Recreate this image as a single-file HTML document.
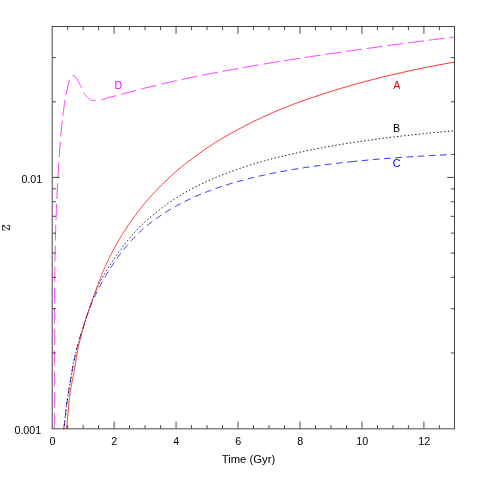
<!DOCTYPE html>
<html><head><meta charset="utf-8"><title>Z vs Time</title>
<style>
html,body{margin:0;padding:0;background:#fff;}
body{width:480px;height:480px;overflow:hidden;}
svg{display:block;will-change:transform;}
text{font-family:"Liberation Sans",sans-serif;font-size:10.7px;fill:#000;}
</style></head>
<body>
<svg width="480" height="480" viewBox="0 0 480 480">
<rect x="0" y="0" width="480" height="480" fill="#fff"/>
<defs><filter id="g" x="0" y="0" width="480" height="480" filterUnits="userSpaceOnUse" color-interpolation-filters="sRGB"><feOffset dx="0" dy="0"/></filter><clipPath id="c"><rect x="52.14" y="26.50" width="402.36" height="402.37"/></clipPath></defs>
<g fill="none" stroke-width="0.8" clip-path="url(#c)">
<path stroke="#f0f" stroke-dasharray="15.8 5.06" stroke-dashoffset="-0.5" d="M54.29 428.87L54.29 427.70L54.30 426.54L54.30 425.37L54.31 424.20L54.31 423.04L54.31 421.87L54.32 420.70L54.32 419.54L54.32 418.37L54.33 417.20L54.33 416.04L54.33 414.87L54.33 413.70L54.33 412.53L54.34 411.37L54.34 410.20L54.34 409.03L54.34 407.87L54.34 406.70L54.34 405.53L54.34 404.37L54.34 403.20L54.35 402.03L54.35 400.87L54.35 399.70L54.35 398.53L54.35 397.37L54.35 396.20L54.35 395.03L54.35 393.87L54.35 392.70L54.35 391.53L54.35 390.37L54.35 389.20L54.35 388.03L54.35 386.87L54.35 385.70L54.34 384.53L54.34 383.37L54.34 382.20L54.34 381.03L54.34 379.86L54.34 378.70L54.34 377.53L54.34 376.36L54.34 375.20L54.34 374.03L54.34 372.86L54.34 371.70L54.34 370.53L54.34 369.36L54.33 368.20L54.33 367.03L54.33 365.86L54.33 364.70L54.33 363.53L54.33 362.36L54.33 361.20L54.33 360.03L54.33 358.86L54.33 357.70L54.33 356.53L54.33 355.36L54.33 354.20L54.33 353.03L54.33 351.86L54.33 350.70L54.33 349.53L54.33 348.36L54.33 347.19L54.33 346.03L54.33 344.86L54.33 343.69L54.33 342.53L54.33 341.36L54.33 340.19L54.33 339.03L54.34 337.86L54.34 336.69L54.34 335.53L54.34 334.36L54.34 333.19L54.34 332.03L54.35 330.86L54.35 329.69L54.35 328.53L54.35 327.36L54.36 326.19L54.36 325.03L54.36 323.86L54.37 322.69L54.37 321.53L54.37 320.36L54.38 319.19L54.38 318.03L54.39 316.86L54.39 315.69L54.40 314.52L54.40 313.36L54.41 312.19L54.41 311.02L54.42 309.86L54.43 308.69L54.43 307.52L54.44 306.36L54.45 305.19L54.45 304.02L54.46 302.86L54.47 301.69L54.48 300.52L54.49 299.36L54.50 298.19L54.50 297.02L54.51 295.86L54.52 294.69L54.53 293.52L54.54 292.36L54.55 291.19L54.57 290.02L54.58 288.86L54.59 287.69L54.60 286.52L54.61 285.35L54.63 284.19L54.64 283.02L54.65 281.85L54.67 280.69L54.68 279.52L54.70 278.35L54.71 277.19L54.73 276.02L54.74 274.85L54.76 273.69L54.77 272.52L54.79 271.35L54.81 270.19L54.83 269.02L54.84 267.85L54.86 266.69L54.88 265.52L54.90 264.35L54.92 263.19L54.94 262.02L54.96 260.85L54.98 259.69L55.01 258.52L55.03 257.35L55.05 256.19L55.07 255.02L55.10 253.85L55.12 252.68L55.15 251.52L55.17 250.35L55.20 249.18L55.22 248.02L55.25 246.85L55.28 245.68L55.31 244.52L55.33 243.35L55.36 242.18L55.39 241.02L55.42 239.85L55.45 238.68L55.48 237.52L55.51 236.35L55.55 235.18L55.58 234.02L55.61 232.85L55.65 231.68L55.68 230.52L55.71 229.35L55.75 228.18L55.79 227.02L55.82 225.85L55.86 224.68L55.90 223.52L55.94 222.35L55.97 221.18L56.01 220.01L56.05 218.85L56.10 217.68L56.14 216.51L56.18 215.35L56.22 214.18L56.27 213.01L56.31 211.85L56.35 210.68L56.40 209.51L56.45 208.35L56.49 207.18L56.54 206.01L56.59 204.85L56.64 203.68L56.69 202.51L56.74 201.35L56.79 200.18L56.84 199.01L56.89 197.85L56.94 196.68L57.00 195.51L57.05 194.35L57.11 193.18L57.16 192.01L57.22 190.84L57.28 189.68L57.33 188.51L57.39 187.34L57.45 186.18L57.51 185.01L57.57 183.84L57.64 182.68L57.70 181.51L57.76 180.34L57.83 179.18L57.89 178.01L57.96 176.84L58.02 175.68L58.09 174.51L58.16 173.34L58.23 172.18L58.30 171.01L58.37 169.84L58.44 168.68L58.51 167.51L58.59 166.34L58.66 165.18L58.74 164.01L58.81 162.84L58.89 161.68L58.97 160.51L59.05 159.34L59.12 158.17L59.21 157.01L59.29 155.84L59.37 154.67L59.45 153.51L59.54 152.34L59.62 151.17L59.71 150.01L59.79 148.84L59.88 147.67L59.97 146.51L60.06 145.34L60.15 144.17L60.24 143.01L60.33 141.84L60.43 140.67L60.52 139.51L60.62 138.34L60.71 137.17L60.81 136.01L60.91 134.84L61.01 133.67L61.12 132.51L61.22 131.34L61.33 130.17L61.44 129.01L61.55 127.84L61.66 126.67L61.78 125.50L61.90 124.34L62.02 123.17L62.14 122.00L62.27 120.84L62.40 119.67L62.53 118.50L62.67 117.34L62.81 116.17L62.95 115.00L63.09 113.84L63.24 112.67L63.40 111.50L63.56 110.34L63.72 109.17L63.88 108.00L64.05 106.84L64.23 105.67L64.40 104.50L64.59 103.34L64.77 102.17L64.97 101.00L65.16 99.84L65.36 98.67L65.57 97.50L65.78 96.34L66.00 95.17L66.22 94.00L66.45 92.83L66.68 91.67L66.92 90.50L67.17 89.33L67.42 88.17L67.68 87.00L67.94 85.83L68.21 84.67L68.49 83.50L68.77 82.33L69.06 81.17L69.36 80.00L69.53 79.86L69.71 79.48L69.89 79.11L70.07 78.75L70.25 78.41L70.43 78.09L70.61 77.79L70.79 77.50L70.97 77.23L71.15 76.99L71.33 76.76L71.50 76.56L71.68 76.38L71.86 76.23L72.04 76.11L72.22 76.01L72.40 75.94L72.58 75.86L72.76 75.80L72.94 75.74L73.12 75.69L73.30 75.66L73.47 75.65L73.65 75.66L73.83 75.70L74.01 75.76L74.19 75.85L74.37 75.96L74.55 76.10L74.73 76.25L74.91 76.42L75.09 76.60L75.27 76.80L75.45 77.00L75.62 77.22L75.80 77.45L75.98 77.68L76.16 77.92L76.34 78.16L76.52 78.40L76.70 78.64L76.88 78.87L77.06 79.12L77.24 79.39L77.42 79.70L77.59 80.02L77.77 80.36L77.95 80.72L78.13 81.10L78.31 81.48L78.49 81.86L78.67 82.25L78.85 82.63L79.03 83.00L79.21 83.37L79.39 83.72L79.57 84.06L79.74 84.39L79.92 84.72L80.10 85.04L80.28 85.36L80.46 85.69L80.64 86.03L80.82 86.37L81.00 86.72L81.18 87.09L81.36 87.49L81.54 87.92L81.71 88.39L81.89 88.88L82.07 89.38L82.25 89.88L82.43 90.37L82.61 90.83L82.79 91.26L82.97 91.65L83.15 91.98L83.33 92.29L83.51 92.60L83.68 92.89L83.86 93.18L84.04 93.45L84.22 93.72L84.40 93.99L84.58 94.24L84.76 94.49L84.94 94.73L85.12 94.96L85.30 95.19L85.48 95.41L85.66 95.63L85.83 95.83L86.01 96.04L86.19 96.23L86.37 96.42L86.55 96.61L86.73 96.79L86.91 96.96L87.09 97.13L87.27 97.29L87.45 97.45L87.63 97.61L87.80 97.76L87.98 97.92L88.16 98.07L88.34 98.23L88.52 98.38L88.70 98.53L88.88 98.67L89.06 98.81L89.24 98.95L89.42 99.08L89.60 99.20L89.77 99.32L89.95 99.44L90.13 99.54L90.31 99.64L90.49 99.73L90.67 99.81L90.85 99.88L91.03 99.94L91.21 99.99L91.39 100.03L91.57 100.07L91.75 100.11L91.92 100.15L92.10 100.19L92.28 100.22L92.46 100.26L92.64 100.29L92.82 100.33L93.00 100.36L93.18 100.39L93.36 100.42L93.54 100.44L93.72 100.47L93.89 100.49L94.07 100.51L94.25 100.53L94.43 100.55L94.61 100.56L94.79 100.57L94.97 100.58L95.15 100.59L95.33 100.60L95.51 100.60L95.69 100.60L95.86 100.60L96.04 100.59L96.22 100.59L96.40 100.58L96.58 100.56L96.76 100.55L96.94 100.54L97.12 100.52L97.30 100.50L97.48 100.48L97.66 100.46L97.84 100.44L98.01 100.41L98.19 100.39L98.37 100.36L98.55 100.33L98.73 100.31L98.91 100.28L99.09 100.25L99.27 100.22L99.45 100.19L99.63 100.16L99.81 100.13L99.98 100.10L100.16 100.07L100.34 100.04L100.52 100.01L100.70 99.98L100.88 99.95L101.06 99.92L101.24 99.89L101.42 99.86L101.60 99.82L101.78 99.79L101.95 99.75L102.13 99.71L102.31 99.68L102.49 99.64L102.67 99.60L102.85 99.56L103.03 99.51L103.21 99.47L103.39 99.43L103.57 99.38L103.75 99.34L103.93 99.29L104.10 99.25L104.28 99.20L104.46 99.15L104.64 99.10L104.82 99.05L105.00 99.01L106.17 98.12L107.34 97.84L108.51 97.56L109.68 97.28L110.84 96.99L112.01 96.70L113.18 96.40L114.35 96.11L115.52 95.81L116.69 95.50L117.86 95.20L119.03 94.89L120.20 94.59L121.36 94.28L122.53 93.97L123.70 93.66L124.87 93.35L126.04 93.04L127.21 92.73L128.38 92.43L129.55 92.12L130.72 91.81L131.88 91.50L133.05 91.19L134.22 90.89L135.39 90.58L136.56 90.28L137.73 89.97L138.90 89.67L140.07 89.37L141.24 89.07L142.40 88.77L143.57 88.47L144.74 88.17L145.91 87.88L147.08 87.58L148.25 87.29L149.42 87.00L150.59 86.71L151.76 86.42L152.92 86.13L154.09 85.85L155.26 85.56L156.43 85.28L157.60 85.00L158.77 84.72L159.94 84.44L161.11 84.16L162.28 83.89L163.44 83.61L164.61 83.34L165.78 83.07L166.95 82.80L168.12 82.54L169.29 82.27L170.46 82.00L171.63 81.74L172.80 81.48L173.96 81.22L175.13 80.96L176.30 80.70L177.47 80.44L178.64 80.19L179.81 79.93L180.98 79.68L182.15 79.43L183.32 79.18L184.48 78.93L185.65 78.68L186.82 78.43L187.99 78.19L189.16 77.94L190.33 77.70L191.50 77.45L192.67 77.21L193.84 76.97L195.01 76.73L196.17 76.49L197.34 76.25L198.51 76.02L199.68 75.78L200.85 75.55L202.02 75.31L203.19 75.08L204.36 74.85L205.53 74.62L206.69 74.39L207.86 74.16L209.03 73.93L210.20 73.70L211.37 73.47L212.54 73.25L213.71 73.02L214.88 72.80L216.05 72.58L217.21 72.35L218.38 72.13L219.55 71.91L220.72 71.69L221.89 71.47L223.06 71.25L224.23 71.03L225.40 70.82L226.57 70.60L227.73 70.39L228.90 70.17L230.07 69.96L231.24 69.74L232.41 69.53L233.58 69.32L234.75 69.11L235.92 68.90L237.09 68.69L238.25 68.48L239.42 68.27L240.59 68.06L241.76 67.85L242.93 67.65L244.10 67.44L245.27 67.24L246.44 67.03L247.61 66.83L248.77 66.62L249.94 66.42L251.11 66.22L252.28 66.02L253.45 65.82L254.62 65.62L255.79 65.42L256.96 65.22L258.13 65.02L259.29 64.82L260.46 64.63L261.63 64.43L262.80 64.23L263.97 64.04L265.14 63.84L266.31 63.65L267.48 63.45L268.65 63.26L269.81 63.07L270.98 62.87L272.15 62.68L273.32 62.49L274.49 62.30L275.66 62.11L276.83 61.92L278.00 61.73L279.17 61.54L280.33 61.35L281.50 61.17L282.67 60.98L283.84 60.79L285.01 60.61L286.18 60.42L287.35 60.23L288.52 60.05L289.69 59.86L290.85 59.68L292.02 59.50L293.19 59.31L294.36 59.13L295.53 58.95L296.70 58.76L297.87 58.58L299.04 58.40L300.21 58.22L301.37 58.04L302.54 57.86L303.71 57.68L304.88 57.50L306.05 57.32L307.22 57.14L308.39 56.96L309.56 56.79L310.73 56.61L311.89 56.43L313.06 56.26L314.23 56.08L315.40 55.90L316.57 55.73L317.74 55.55L318.91 55.38L320.08 55.20L321.25 55.03L322.41 54.86L323.58 54.68L324.75 54.51L325.92 54.34L327.09 54.16L328.26 53.99L329.43 53.82L330.60 53.65L331.77 53.48L332.93 53.31L334.10 53.14L335.27 52.97L336.44 52.80L337.61 52.63L338.78 52.46L339.95 52.29L341.12 52.12L342.29 51.95L343.45 51.78L344.62 51.62L345.79 51.45L346.96 51.28L348.13 51.11L349.30 50.95L350.47 50.78L351.64 50.62L352.81 50.45L353.97 50.29L355.14 50.12L356.31 49.96L357.48 49.79L358.65 49.63L359.82 49.46L360.99 49.30L362.16 49.14L363.33 48.97L364.49 48.81L365.66 48.65L366.83 48.49L368.00 48.32L369.17 48.16L370.34 48.00L371.51 47.84L372.68 47.68L373.85 47.52L375.02 47.36L376.18 47.20L377.35 47.04L378.52 46.88L379.69 46.72L380.86 46.56L382.03 46.40L383.20 46.24L384.37 46.08L385.54 45.92L386.70 45.77L387.87 45.61L389.04 45.45L390.21 45.29L391.38 45.14L392.55 44.98L393.72 44.82L394.89 44.67L396.06 44.51L397.22 44.36L398.39 44.20L399.56 44.04L400.73 43.89L401.90 43.73L403.07 43.58L404.24 43.42L405.41 43.27L406.58 43.12L407.74 42.96L408.91 42.81L410.08 42.66L411.25 42.50L412.42 42.35L413.59 42.20L414.76 42.04L415.93 41.89L417.10 41.74L418.26 41.59L419.43 41.44L420.60 41.28L421.77 41.13L422.94 40.98L424.11 40.83L425.28 40.68L426.45 40.53L427.62 40.38L428.78 40.23L429.95 40.08L431.12 39.93L432.29 39.78L433.46 39.63L434.63 39.48L435.80 39.33L436.97 39.19L438.14 39.04L439.30 38.89L440.47 38.74L441.64 38.59L442.81 38.44L443.98 38.30L445.15 38.15L446.32 38.00L447.49 37.86L448.66 37.71L449.82 37.56L450.99 37.42L452.16 37.27L453.33 37.12L454.50 36.98"/>
<path stroke="#00f" stroke-dasharray="6.7 4.5" stroke-dashoffset="-1.5" d="M63.75 429.16L63.85 428.36L63.96 427.53L64.06 426.68L64.17 425.81L64.28 424.92L64.39 424.02L64.50 423.10L64.61 422.16L64.72 421.21L64.83 420.25L64.94 419.28L65.06 418.29L65.17 417.30L65.29 416.30L65.41 415.29L65.52 414.28L65.64 413.26L65.76 412.24L65.89 411.21L66.01 410.19L66.13 409.16L66.26 408.14L66.38 407.12L66.51 406.10L66.64 405.08L66.77 404.07L66.90 403.07L67.03 402.08L67.16 401.09L67.30 400.12L67.43 399.15L67.57 398.20L67.71 397.26L67.85 396.33L67.99 395.42L68.13 394.51L68.27 393.60L68.41 392.71L68.56 391.82L68.71 390.93L68.85 390.04L69.00 389.15L69.15 388.27L69.30 387.38L69.46 386.49L69.61 385.59L69.77 384.69L69.93 383.78L70.08 382.86L70.24 381.93L70.41 381.00L70.57 380.05L70.73 379.10L70.90 378.15L71.07 377.18L71.24 376.21L71.41 375.24L71.58 374.26L71.75 373.28L71.93 372.30L72.10 371.31L72.28 370.32L72.46 369.32L72.64 368.33L72.83 367.33L73.01 366.34L73.20 365.34L73.38 364.35L73.57 363.36L73.77 362.37L73.96 361.38L74.15 360.40L74.35 359.42L74.55 358.44L74.75 357.48L74.95 356.51L75.15 355.56L75.36 354.61L75.57 353.67L75.78 352.74L75.99 351.82L76.20 350.92L76.41 350.02L76.63 349.13L76.85 348.25L77.07 347.39L77.29 346.53L77.52 345.68L77.74 344.84L77.97 344.00L78.20 343.17L78.43 342.35L78.67 341.53L78.91 340.72L79.15 339.91L79.39 339.10L79.63 338.30L79.87 337.50L80.12 336.70L80.37 335.90L80.62 335.10L80.88 334.29L81.13 333.49L81.39 332.69L81.65 331.88L81.92 331.07L82.18 330.26L82.45 329.44L82.72 328.61L83.00 327.78L83.27 326.94L83.55 326.10L83.83 325.25L84.11 324.39L84.40 323.52L84.69 322.64L84.98 321.76L85.27 320.87L85.56 319.98L85.86 319.08L86.16 318.18L86.47 317.27L86.77 316.37L87.08 315.46L87.39 314.56L87.71 313.65L88.03 312.75L88.35 311.86L88.67 310.96L89.00 310.07L89.33 309.19L89.66 308.31L89.99 307.44L90.33 306.58L90.67 305.73L91.01 304.89L91.36 304.06L91.71 303.25L92.07 302.43L92.42 301.63L92.78 300.84L93.14 300.04L93.51 299.25L93.88 298.46L94.25 297.68L94.63 296.89L95.01 296.09L95.39 295.30L95.78 294.50L96.16 293.71L96.56 292.91L96.95 292.11L97.35 291.31L97.76 290.50L98.16 289.70L98.58 288.89L98.99 288.09L99.41 287.28L99.83 286.47L100.26 285.66L100.69 284.85L101.12 284.03L101.56 283.22L102.00 282.41L102.44 281.59L102.89 280.78L103.34 279.96L103.80 279.15L104.26 278.33L104.73 277.51L105.20 276.70L105.67 275.88L106.15 275.06L106.63 274.24L107.12 273.42L107.61 272.61L108.10 271.79L108.60 270.97L109.11 270.15L109.61 269.34L110.13 268.52L110.64 267.70L111.17 266.89L111.69 266.07L112.23 265.25L112.76 264.44L113.30 263.62L113.85 262.81L114.40 262.00L114.95 261.19L115.52 260.38L116.08 259.57L116.65 258.76L117.23 257.95L117.81 257.14L118.39 256.34L118.99 255.53L119.58 254.73L120.18 253.93L120.79 253.13L121.40 252.33L122.02 251.53L122.65 250.74L123.28 249.95L123.91 249.15L124.55 248.36L125.20 247.58L125.85 246.79L126.51 246.01L127.17 245.22L127.84 244.45L128.52 243.67L129.20 242.89L129.89 242.12L130.58 241.35L131.28 240.58L131.99 239.82L132.70 239.05L133.42 238.29L134.14 237.54L134.88 236.78L135.61 236.03L136.36 235.28L137.11 234.54L137.87 233.79L138.63 233.05L139.41 232.32L140.19 231.59L140.97 230.87L141.76 230.16L142.56 229.45L143.37 228.74L144.19 228.04L145.01 227.34L145.84 226.65L146.67 225.95L147.52 225.26L148.37 224.58L149.23 223.90L150.09 223.22L150.97 222.54L151.85 221.87L152.74 221.19L153.64 220.53L154.54 219.86L155.46 219.20L156.38 218.55L157.31 217.89L158.25 217.24L159.20 216.59L160.15 215.95L161.11 215.29L162.09 214.63L163.07 213.98L164.06 213.33L165.06 212.68L166.07 212.03L167.08 211.39L168.11 210.76L169.14 210.12L170.19 209.49L171.24 208.86L172.30 208.23L173.38 207.61L174.46 206.99L175.55 206.38L176.65 205.77L177.76 205.16L178.89 204.55L180.02 203.95L181.16 203.35L182.31 202.75L183.47 202.16L184.64 201.57L185.83 200.98L187.02 200.40L188.22 199.82L189.44 199.24L190.66 198.67L191.90 198.10L193.15 197.53L194.41 196.96L195.68 196.40L196.96 195.85L198.25 195.29L199.55 194.74L200.87 194.19L202.20 193.65L203.54 193.11L204.89 192.57L206.25 192.03L207.63 191.50L209.01 190.97L210.41 190.45L211.83 189.93L213.25 189.41L214.69 188.89L216.14 188.38L217.60 187.87L219.08 187.36L220.57 186.86L222.07 186.36L223.59 185.87L225.12 185.37L226.67 184.89L228.22 184.40L229.79 183.92L231.38 183.44L232.98 182.96L234.59 182.49L236.22 182.02L237.87 181.56L239.52 181.10L241.20 180.64L242.88 180.18L244.59 179.73L246.30 179.28L248.04 178.84L249.79 178.40L251.55 177.96L253.33 177.52L255.12 177.09L256.94 176.67L258.76 176.24L260.61 175.82L262.47 175.41L264.35 174.99L266.24 174.58L268.15 174.18L270.08 173.78L272.03 173.38L273.99 172.99L275.97 172.59L277.97 172.21L279.98 171.82L282.01 171.44L284.07 171.07L286.14 170.69L288.23 170.32L290.33 169.96L292.46 169.59L294.60 169.23L296.77 168.88L298.95 168.53L301.15 168.18L303.38 167.83L305.62 167.49L307.88 167.15L310.16 166.82L312.47 166.49L314.79 166.16L317.13 165.84L319.50 165.52L321.89 165.20L324.29 164.89L326.72 164.58L329.17 164.28L331.65 163.97L334.14 163.66L336.66 163.36L339.20 163.06L341.76 162.76L344.34 162.47L346.95 162.18L349.58 161.89L350.65 161.78"/>
<path stroke="#00f" stroke-dasharray="6.7 4.5" d="M350.65 161.78L352.24 161.61L354.92 161.33L357.62 161.06L360.35 160.79L363.10 160.52L365.87 160.25L368.67 159.99L371.50 159.74L374.35 159.48L377.22 159.23L380.13 158.99L383.05 158.75L386.01 158.51L388.99 158.27L391.99 158.04L395.03 157.81L398.09 157.59L401.18 157.37L404.29 157.16L407.43 156.95L410.60 156.75L413.80 156.55L417.03 156.35L420.29 156.16L423.58 155.97L426.89 155.78L430.24 155.60L433.61 155.42L437.01 155.25L440.45 155.08L443.92 154.91L447.41 154.75L450.94 154.59L454.50 154.43"/>
<path stroke="#000" stroke-width="0.95" stroke-dasharray="1.4 2.26" d="M63.75 428.98L63.85 428.30L63.96 427.57L64.06 426.80L64.17 426.00L64.28 425.17L64.39 424.31L64.50 423.41L64.61 422.49L64.72 421.55L64.83 420.58L64.94 419.60L65.06 418.59L65.17 417.57L65.29 416.54L65.41 415.49L65.52 414.43L65.64 413.37L65.76 412.30L65.89 411.23L66.01 410.15L66.13 409.08L66.26 408.01L66.38 406.94L66.51 405.88L66.64 404.83L66.77 403.79L66.90 402.77L67.03 401.76L67.16 400.77L67.30 399.80L67.43 398.85L67.57 397.92L67.71 397.02L67.85 396.14L67.99 395.27L68.13 394.42L68.27 393.59L68.41 392.76L68.56 391.93L68.71 391.11L68.85 390.29L69.00 389.46L69.15 388.63L69.30 387.79L69.46 386.94L69.61 386.07L69.77 385.18L69.93 384.27L70.08 383.34L70.24 382.38L70.41 381.40L70.57 380.40L70.73 379.38L70.90 378.35L71.07 377.30L71.24 376.25L71.41 375.18L71.58 374.11L71.75 373.04L71.93 371.96L72.10 370.89L72.28 369.82L72.46 368.75L72.64 367.70L72.83 366.65L73.01 365.62L73.20 364.60L73.38 363.60L73.57 362.62L73.77 361.65L73.96 360.69L74.15 359.75L74.35 358.82L74.55 357.90L74.75 357.00L74.95 356.11L75.15 355.23L75.36 354.35L75.57 353.49L75.78 352.64L75.99 351.80L76.20 350.96L76.41 350.13L76.63 349.31L76.85 348.50L77.07 347.69L77.29 346.88L77.52 346.08L77.74 345.28L77.97 344.49L78.20 343.70L78.43 342.91L78.67 342.12L78.91 341.34L79.15 340.55L79.39 339.77L79.63 338.98L79.87 338.19L80.12 337.40L80.37 336.61L80.62 335.81L80.88 335.01L81.13 334.21L81.39 333.40L81.65 332.58L81.92 331.76L82.18 330.93L82.45 330.10L82.72 329.25L83.00 328.40L83.27 327.54L83.55 326.67L83.83 325.79L84.11 324.90L84.40 323.99L84.69 323.08L84.98 322.16L85.27 321.23L85.56 320.29L85.86 319.34L86.16 318.38L86.47 317.42L86.77 316.45L87.08 315.48L87.39 314.50L87.71 313.52L88.03 312.53L88.35 311.55L88.67 310.56L89.00 309.56L89.33 308.57L89.66 307.58L89.99 306.59L90.33 305.60L90.67 304.61L91.01 303.62L91.36 302.64L91.71 301.65L92.07 300.68L92.42 299.71L92.78 298.74L93.14 297.78L93.51 296.83L93.88 295.88L94.25 294.95L94.63 294.02L95.01 293.10L95.39 292.19L95.78 291.28L96.16 290.38L96.56 289.50L96.95 288.61L97.35 287.74L97.76 286.87L98.16 286.01L98.58 285.15L98.99 284.30L99.41 283.46L99.83 282.62L100.26 281.78L100.69 280.95L101.12 280.13L101.56 279.30L102.00 278.48L102.44 277.67L102.89 276.86L103.34 276.05L103.80 275.24L104.26 274.44L104.73 273.64L105.20 272.84L105.67 272.04L106.15 271.24L106.63 270.44L107.12 269.65L107.61 268.85L108.10 268.06L108.60 267.26L109.11 266.47L109.61 265.67L110.13 264.87L110.64 264.07L111.17 263.27L111.69 262.47L112.23 261.66L112.76 260.86L113.30 260.05L113.85 259.24L114.40 258.43L114.95 257.61L115.52 256.80L116.08 255.98L116.65 255.16L117.23 254.34L117.81 253.52L118.39 252.70L118.99 251.88L119.58 251.06L120.18 250.23L120.79 249.41L121.40 248.58L122.02 247.75L122.65 246.93L123.28 246.10L123.91 245.27L124.55 244.45L125.20 243.62L125.85 242.79L126.51 241.96L127.17 241.13L127.84 240.31L128.52 239.48L129.20 238.65L129.89 237.83L130.58 237.00L131.28 236.18L131.99 235.35L132.70 234.53L133.42 233.71L134.14 232.88L134.88 232.06L135.61 231.24L136.36 230.42L137.11 229.61L137.87 228.79L138.63 227.98L139.41 227.17L140.19 226.37L140.97 225.60L141.76 224.84L142.56 224.09L143.37 223.33L144.19 222.58L145.01 221.83L145.84 221.08L146.67 220.34L147.52 219.60L148.37 218.86L149.23 218.12L150.09 217.39L150.97 216.63L151.85 215.87L152.74 215.12L153.64 214.37L154.54 213.62L155.46 212.88L156.38 212.14L157.31 211.41L158.25 210.67L159.20 209.94L160.15 209.21L161.11 208.46L162.09 207.72L163.07 206.98L164.06 206.24L165.06 205.50L166.07 204.77L167.08 204.04L168.11 203.31L169.14 202.59L170.19 201.87L171.24 201.16L172.30 200.44L173.38 199.73L174.46 199.02L175.55 198.32L176.65 197.62L177.76 196.92L178.89 196.23L180.02 195.54L181.16 194.85L182.31 194.16L183.47 193.48L184.64 192.80L185.83 192.13L187.02 191.45L188.22 190.78L189.44 190.12L190.66 189.45L191.90 188.79L193.15 188.14L194.41 187.48L195.68 186.83L196.96 186.18L198.25 185.54L199.55 184.89L200.87 184.26L202.20 183.62L203.54 182.99L204.89 182.36L206.25 181.73L207.63 181.10L209.01 180.47L210.41 179.85L211.83 179.23L213.25 178.61L214.69 177.99L216.14 177.38L217.60 176.77L219.08 176.17L220.57 175.56L222.07 174.96L223.59 174.37L225.12 173.77L226.67 173.18L228.22 172.59L229.79 172.01L231.38 171.42L232.98 170.84L234.59 170.27L236.22 169.69L237.87 169.12L239.52 168.55L241.20 167.99L242.88 167.43L244.59 166.87L246.30 166.31L248.04 165.75L249.79 165.20L251.55 164.65L253.33 164.11L255.12 163.57L256.94 163.03L258.76 162.49L260.61 161.95L262.47 161.43L264.35 160.90L266.24 160.38L268.15 159.86L270.08 159.35L272.03 158.83L273.99 158.32L275.97 157.81L277.97 157.31L279.98 156.81L282.01 156.31L284.07 155.81L286.14 155.32L288.23 154.83L290.33 154.34L292.46 153.85L294.60 153.37L296.77 152.89L298.95 152.41L301.15 151.93L303.38 151.46L305.62 150.99L307.88 150.53L310.16 150.06L312.47 149.60L314.79 149.14L317.13 148.69L319.50 148.23L321.89 147.78L324.29 147.33L326.72 146.89L329.17 146.45L331.65 146.01L334.14 145.58L336.66 145.15L339.20 144.73L341.76 144.30L344.34 143.88L346.95 143.46L349.58 143.05L352.24 142.64L354.92 142.23L357.62 141.82L360.35 141.42L363.10 141.01L365.87 140.62L368.67 140.22L371.50 139.83L374.35 139.43L377.22 139.05L380.13 138.66L383.05 138.29L386.01 137.92L388.99 137.55L391.99 137.19L395.03 136.83L398.09 136.47L401.18 136.11L404.29 135.76L407.43 135.41L410.60 135.06L413.80 134.72L417.03 134.37L420.29 134.03L423.58 133.70L426.89 133.36L430.24 133.03L433.61 132.71L437.01 132.38L440.45 132.06L443.92 131.74L447.41 131.42L450.94 131.11L454.50 130.79"/>
<path stroke="#f00" d="M66.45 429.10L66.57 428.01L66.69 426.87L66.81 425.68L66.94 424.44L67.06 423.16L67.19 421.84L67.31 420.49L67.44 419.11L67.57 417.70L67.70 416.27L67.83 414.83L67.96 413.37L68.09 411.91L68.23 410.44L68.36 408.97L68.50 407.50L68.64 406.05L68.77 404.61L68.91 403.18L69.05 401.78L69.20 400.41L69.34 399.06L69.48 397.75L69.63 396.48L69.78 395.25L69.93 394.07L70.07 392.94L70.23 391.87L70.38 390.84L70.53 389.85L70.68 388.91L70.84 388.00L71.00 387.12L71.16 386.26L71.32 385.43L71.48 384.62L71.64 383.83L71.80 383.04L71.97 382.26L72.13 381.47L72.30 380.69L72.47 379.90L72.64 379.10L72.81 378.28L72.99 377.45L73.16 376.59L73.34 375.70L73.52 374.78L73.70 373.82L73.88 372.82L74.06 371.78L74.24 370.71L74.43 369.61L74.62 368.47L74.81 367.32L75.00 366.14L75.19 364.94L75.38 363.73L75.58 362.51L75.77 361.28L75.97 360.05L76.17 358.82L76.37 357.60L76.58 356.38L76.78 355.17L76.99 353.98L77.20 352.81L77.41 351.66L77.62 350.54L77.83 349.45L78.05 348.39L78.27 347.35L78.49 346.35L78.71 345.36L78.93 344.40L79.16 343.45L79.38 342.52L79.61 341.60L79.84 340.68L80.08 339.78L80.31 338.88L80.55 337.98L80.79 337.07L81.03 336.17L81.27 335.25L81.51 334.33L81.76 333.40L82.01 332.46L82.26 331.52L82.51 330.57L82.77 329.61L83.02 328.65L83.28 327.69L83.55 326.73L83.81 325.78L84.07 324.82L84.34 323.86L84.61 322.91L84.89 321.97L85.16 321.03L85.44 320.09L85.72 319.17L86.00 318.25L86.28 317.35L86.57 316.46L86.86 315.57L87.15 314.70L87.45 313.83L87.74 312.97L88.04 312.11L88.34 311.25L88.65 310.38L88.95 309.52L89.26 308.65L89.57 307.78L89.89 306.90L90.21 306.02L90.52 305.13L90.85 304.23L91.17 303.33L91.50 302.41L91.83 301.49L92.16 300.55L92.50 299.61L92.84 298.66L93.18 297.71L93.52 296.75L93.87 295.78L94.22 294.80L94.58 293.82L94.93 292.84L95.29 291.85L95.65 290.85L96.02 289.85L96.39 288.85L96.76 287.84L97.13 286.83L97.51 285.81L97.89 284.79L98.28 283.77L98.66 282.75L99.06 281.73L99.45 280.70L99.85 279.68L100.25 278.65L100.65 277.62L101.06 276.59L101.47 275.57L101.88 274.54L102.30 273.51L102.72 272.49L103.15 271.46L103.58 270.44L104.01 269.42L104.44 268.42L104.88 267.43L105.32 266.44L105.77 265.45L106.22 264.46L106.68 263.47L107.13 262.48L107.60 261.49L108.06 260.51L108.53 259.52L109.00 258.54L109.48 257.56L109.96 256.57L110.45 255.59L110.94 254.61L111.43 253.63L111.93 252.66L112.43 251.68L112.94 250.70L113.45 249.74L113.96 248.78L114.48 247.82L115.01 246.86L115.53 245.91L116.07 244.95L116.60 244.00L117.14 243.05L117.69 242.09L118.24 241.14L118.80 240.19L119.36 239.25L119.92 238.30L120.49 237.35L121.06 236.41L121.64 235.47L122.23 234.52L122.81 233.58L123.41 232.64L124.01 231.70L124.61 230.77L125.22 229.83L125.83 228.88L126.45 227.93L127.07 226.98L127.70 226.04L128.34 225.09L128.98 224.15L129.62 223.21L130.27 222.27L130.93 221.33L131.59 220.39L132.26 219.45L132.93 218.51L133.61 217.58L134.29 216.64L134.98 215.71L135.68 214.78L136.38 213.85L137.09 212.92L137.80 211.99L138.52 211.07L139.25 210.14L139.98 209.22L140.71 208.28L141.46 207.35L142.21 206.42L142.96 205.49L143.73 204.57L144.50 203.64L145.27 202.71L146.05 201.79L146.84 200.87L147.64 199.94L148.44 199.02L149.25 198.10L150.06 197.18L150.89 196.27L151.72 195.35L152.55 194.44L153.39 193.52L154.24 192.61L155.10 191.70L155.97 190.78L156.84 189.86L157.72 188.94L158.60 188.02L159.50 187.10L160.40 186.19L161.31 185.27L162.23 184.36L163.15 183.45L164.08 182.53L165.02 181.62L165.97 180.72L166.93 179.81L167.89 178.90L168.86 178.00L169.84 177.09L170.83 176.19L171.83 175.29L172.83 174.39L173.84 173.49L174.87 172.59L175.90 171.69L176.94 170.80L177.98 169.90L179.04 169.01L180.11 168.12L181.18 167.23L182.26 166.34L183.36 165.45L184.46 164.56L185.57 163.68L186.69 162.79L187.82 161.91L188.96 161.03L190.11 160.15L191.27 159.27L192.44 158.39L193.61 157.51L194.80 156.63L196.00 155.75L197.21 154.88L198.43 154.00L199.65 153.13L200.89 152.26L202.14 151.39L203.40 150.52L204.67 149.66L205.95 148.78L207.24 147.91L208.55 147.03L209.86 146.16L211.18 145.29L212.52 144.42L213.87 143.55L215.22 142.68L216.59 141.82L217.97 140.95L219.37 140.09L220.77 139.24L222.19 138.40L223.61 137.56L225.05 136.72L226.51 135.88L227.97 135.05L229.45 134.22L230.94 133.38L232.44 132.56L233.95 131.73L235.48 130.90L237.02 130.08L238.57 129.26L240.14 128.43L241.71 127.59L243.31 126.75L244.91 125.91L246.53 125.07L248.16 124.24L249.81 123.40L251.47 122.57L253.14 121.74L254.83 120.91L256.53 120.08L258.25 119.26L259.98 118.44L261.72 117.61L263.48 116.79L265.26 115.98L267.05 115.16L268.85 114.35L270.67 113.54L272.51 112.74L274.36 111.95L276.22 111.16L278.10 110.37L280.00 109.59L281.92 108.80L283.84 108.02L285.79 107.24L287.75 106.46L289.73 105.68L291.73 104.91L293.74 104.14L295.77 103.37L297.81 102.60L299.87 101.84L301.95 101.10L304.05 100.36L306.17 99.63L308.30 98.90L310.45 98.17L312.62 97.44L314.81 96.72L317.01 95.98L319.24 95.24L321.48 94.50L323.74 93.76L326.02 93.02L328.32 92.29L330.64 91.56L332.98 90.83L335.34 90.10L337.72 89.38L340.11 88.66L342.53 87.93L344.97 87.20L347.43 86.48L349.91 85.76L352.41 85.04L354.93 84.32L357.47 83.62L360.04 82.92L362.62 82.23L365.23 81.53L367.86 80.84L370.51 80.15L373.18 79.46L375.88 78.78L378.60 78.09L381.34 77.41L384.10 76.73L386.89 76.06L389.70 75.39L392.54 74.72L395.39 74.05L398.28 73.38L401.18 72.72L404.11 72.06L407.07 71.40L410.05 70.74L413.06 70.08L416.09 69.44L419.14 68.81L422.22 68.18L425.33 67.56L428.46 66.94L431.62 66.32L434.81 65.70L438.02 65.09L441.26 64.48L444.53 63.88L447.83 63.28L451.15 62.68L454.50 62.08"/>
</g>
<path d="M67.63 428.51v-3.34M67.63 26.86v3.34M83.12 428.51v-3.34M83.12 26.86v3.34M98.61 428.51v-3.34M98.61 26.86v3.34M114.10 428.51v-6.94M114.10 26.86v6.94M129.59 428.51v-3.34M129.59 26.86v3.34M145.08 428.51v-3.34M145.08 26.86v3.34M160.57 428.51v-3.34M160.57 26.86v3.34M176.06 428.51v-6.94M176.06 26.86v6.94M191.55 428.51v-3.34M191.55 26.86v3.34M207.04 428.51v-3.34M207.04 26.86v3.34M222.53 428.51v-3.34M222.53 26.86v3.34M238.02 428.51v-6.94M238.02 26.86v6.94M253.51 428.51v-3.34M253.51 26.86v3.34M269.00 428.51v-3.34M269.00 26.86v3.34M284.49 428.51v-3.34M284.49 26.86v3.34M299.98 428.51v-6.94M299.98 26.86v6.94M315.47 428.51v-3.34M315.47 26.86v3.34M330.96 428.51v-3.34M330.96 26.86v3.34M346.45 428.51v-3.34M346.45 26.86v3.34M361.94 428.51v-6.94M361.94 26.86v6.94M377.43 428.51v-3.34M377.43 26.86v3.34M392.92 428.51v-3.34M392.92 26.86v3.34M408.41 428.51v-3.34M408.41 26.86v3.34M423.90 428.51v-6.94M423.90 26.86v6.94M439.39 428.51v-3.34M439.39 26.86v3.34M52.50 352.96h3.34M454.14 352.96h-3.34M52.50 308.74h3.34M454.14 308.74h-3.34M52.50 277.36h3.34M454.14 277.36h-3.34M52.50 253.02h3.34M454.14 253.02h-3.34M52.50 233.13h3.34M454.14 233.13h-3.34M52.50 216.32h3.34M454.14 216.32h-3.34M52.50 201.75h3.34M454.14 201.75h-3.34M52.50 188.90h3.34M454.14 188.90h-3.34M52.50 177.41h6.94M454.14 177.41h-6.94M52.50 101.81h3.34M454.14 101.81h-3.34M52.50 57.58h3.34M454.14 57.58h-3.34" fill="none" stroke="#000" stroke-width="0.72"/>
<rect x="52.14" y="26.50" width="402.36" height="402.37" fill="none" stroke="#000" stroke-width="0.72"/>
<g filter="url(#g)">
<text x="52.39" y="445.4" text-anchor="middle">0</text><text x="114.35" y="445.4" text-anchor="middle">2</text><text x="176.31" y="445.4" text-anchor="middle">4</text><text x="238.27" y="445.4" text-anchor="middle">6</text><text x="300.23" y="445.4" text-anchor="middle">8</text><text x="362.19" y="445.4" text-anchor="middle">10</text><text x="424.15" y="445.4" text-anchor="middle">12</text>
<text x="42.2" y="182.91" text-anchor="end">0.01</text>
<text x="41.2" y="434.07" text-anchor="end">0.001</text>
<text x="248.5" y="463" text-anchor="middle" style="font-size:11.3px">Time (Gyr)</text>
<path d="M4.9 225.4H2.5V229.95H4.7M3 225.8L9.2 229.5M7.2 225.4H9.6V229.95H8.4" fill="none" stroke="#111" stroke-width="0.85"/>
<text x="114.4" y="88.8" style="fill:#f0f">D</text>
<text x="393.2" y="88.8" style="fill:#f00">A</text>
<text x="393.0" y="131.6" style="fill:#000">B</text>
<text x="392.8" y="167.4" style="fill:#00f">C</text>
</g>
</svg>
</body></html>
